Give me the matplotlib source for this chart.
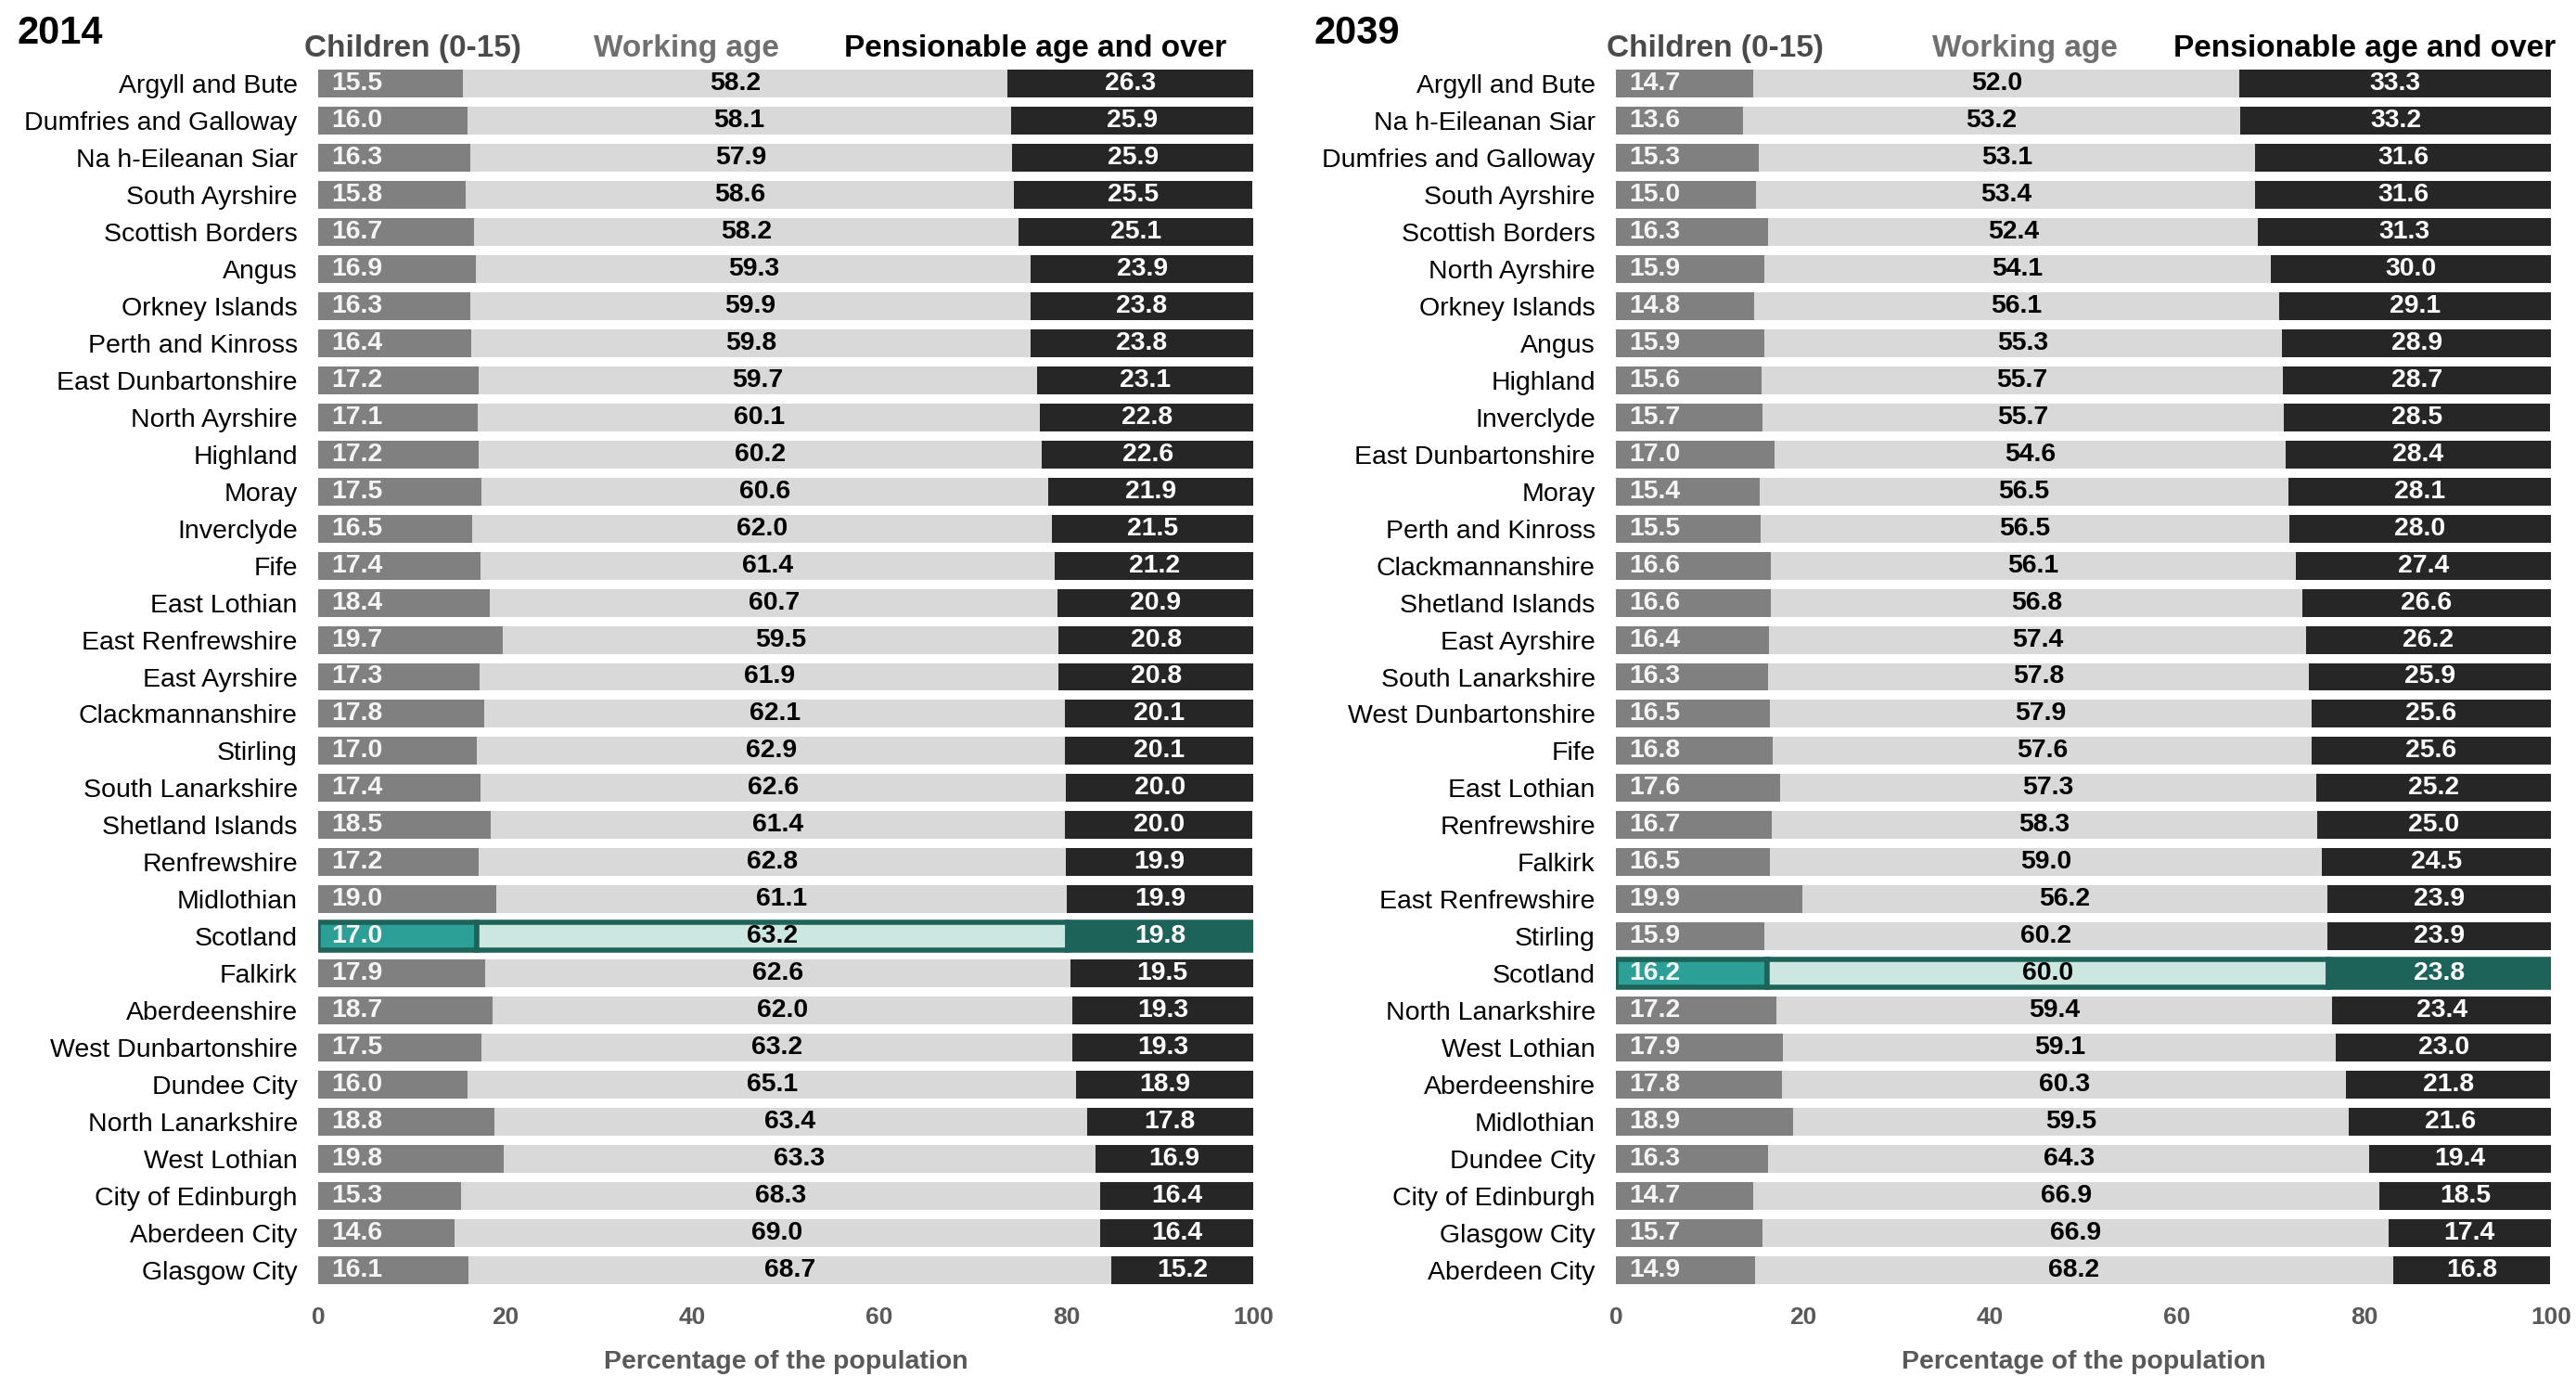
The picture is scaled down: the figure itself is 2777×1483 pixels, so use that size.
import matplotlib.pyplot as plt
import numpy as np
from matplotlib.transforms import blended_transform_factory

plt.rcParams['font.family'] = ['Liberation Sans', 'DejaVu Sans']

# 2014 estimates, ordered by share of pensionable age
areas_2014 = ['Argyll and Bute', 'Dumfries and Galloway', 'Na h-Eileanan Siar',
              'South Ayrshire', 'Scottish Borders', 'Angus', 'Orkney Islands',
              'Perth and Kinross', 'East Dunbartonshire', 'North Ayrshire',
              'Highland', 'Moray', 'Inverclyde', 'Fife', 'East Lothian',
              'East Renfrewshire', 'East Ayrshire', 'Clackmannanshire', 'Stirling',
              'South Lanarkshire', 'Shetland Islands', 'Renfrewshire', 'Midlothian',
              'Scotland', 'Falkirk', 'Aberdeenshire', 'West Dunbartonshire',
              'Dundee City', 'North Lanarkshire', 'West Lothian', 'City of Edinburgh',
              'Aberdeen City', 'Glasgow City']
children_2014 = [15.5, 16.0, 16.3, 15.8, 16.7, 16.9, 16.3, 16.4, 17.2, 17.1, 17.2,
                 17.5, 16.5, 17.4, 18.4, 19.7, 17.3, 17.8, 17.0, 17.4, 18.5, 17.2,
                 19.0, 17.0, 17.9, 18.7, 17.5, 16.0, 18.8, 19.8, 15.3, 14.6, 16.1]
working_2014 = [58.2, 58.1, 57.9, 58.6, 58.2, 59.3, 59.9, 59.8, 59.7, 60.1, 60.2,
                60.6, 62.0, 61.4, 60.7, 59.5, 61.9, 62.1, 62.9, 62.6, 61.4, 62.8,
                61.1, 63.2, 62.6, 62.0, 63.2, 65.1, 63.4, 63.3, 68.3, 69.0, 68.7]
pension_2014 = [26.3, 25.9, 25.9, 25.5, 25.1, 23.9, 23.8, 23.8, 23.1, 22.8, 22.6,
                21.9, 21.5, 21.2, 20.9, 20.8, 20.8, 20.1, 20.1, 20.0, 20.0, 19.9,
                19.9, 19.8, 19.5, 19.3, 19.3, 18.9, 17.8, 16.9, 16.4, 16.4, 15.2]

# 2039 projections
areas_2039 = ['Argyll and Bute', 'Na h-Eileanan Siar', 'Dumfries and Galloway',
              'South Ayrshire', 'Scottish Borders', 'North Ayrshire', 'Orkney Islands',
              'Angus', 'Highland', 'Inverclyde', 'East Dunbartonshire', 'Moray',
              'Perth and Kinross', 'Clackmannanshire', 'Shetland Islands',
              'East Ayrshire', 'South Lanarkshire', 'West Dunbartonshire', 'Fife',
              'East Lothian', 'Renfrewshire', 'Falkirk', 'East Renfrewshire',
              'Stirling', 'Scotland', 'North Lanarkshire', 'West Lothian',
              'Aberdeenshire', 'Midlothian', 'Dundee City', 'City of Edinburgh',
              'Glasgow City', 'Aberdeen City']
children_2039 = [14.7, 13.6, 15.3, 15.0, 16.3, 15.9, 14.8, 15.9, 15.6, 15.7, 17.0,
                 15.4, 15.5, 16.6, 16.6, 16.4, 16.3, 16.5, 16.8, 17.6, 16.7, 16.5,
                 19.9, 15.9, 16.2, 17.2, 17.9, 17.8, 18.9, 16.3, 14.7, 15.7, 14.9]
working_2039 = [52.0, 53.2, 53.1, 53.4, 52.4, 54.1, 56.1, 55.3, 55.7, 55.7, 54.6,
                56.5, 56.5, 56.1, 56.8, 57.4, 57.8, 57.9, 57.6, 57.3, 58.3, 59.0,
                56.2, 60.2, 60.0, 59.4, 59.1, 60.3, 59.5, 64.3, 66.9, 66.9, 68.2]
pension_2039 = [33.3, 33.2, 31.6, 31.6, 31.3, 30.0, 29.1, 28.9, 28.7, 28.5, 28.4,
                28.1, 28.0, 27.4, 26.6, 26.2, 25.9, 25.6, 25.6, 25.2, 25.0, 24.5,
                23.9, 23.9, 23.8, 23.4, 23.0, 21.8, 21.6, 19.4, 18.5, 17.4, 16.8]

groups = ['Children (0-15)', 'Working age', 'Pensionable age and over']
xticks = [0, 20, 40, 60, 80, 100]

W, H = 2777, 1483
fig = plt.figure(figsize=(W / 100, H / 100), dpi=100)

plain = ['#808080', '#d9d9d9', '#262626']
highlight = ['#2ca096', '#cce6e2', '#1e6359']
text_cols = ['#f5f5f5', 'black', 'white']
head_cols = ['#4a4a4a', '#707070', 'black']
axis_grey = '#595959'


def panel(left_px, title, areas, child, work, pens, head_x):
    ax = fig.add_axes([left_px / W, 1 - 1389 / H, 1008 / W, 1319 / H])
    n = len(areas)
    y = np.arange(n)
    child = np.array(child)
    work = np.array(work)
    pens = np.array(pens)
    starts = [np.zeros(n), child, child + work]
    for k, vals in enumerate([child, work, pens]):
        for i in range(n):
            if areas[i] == 'Scotland':
                ax.barh(y[i], vals[i], left=starts[k][i], height=0.75,
                        color=highlight[k], edgecolor='#1e6359', linewidth=4,
                        zorder=3)
            else:
                ax.barh(y[i], vals[i], left=starts[k][i], height=0.75,
                        color=plain[k], linewidth=0, zorder=2)
    for i in range(n):
        ax.text(1.4, y[i], f'{child[i]:.1f}', ha='left', va='center',
                color=text_cols[0], fontsize=20.4, fontweight='bold', zorder=4)
        ax.text(child[i] + work[i] / 2, y[i], f'{work[i]:.1f}', ha='center',
                va='center', color=text_cols[1], fontsize=20.4,
                fontweight='bold', zorder=4)
        ax.text(child[i] + work[i] + pens[i] / 2, y[i], f'{pens[i]:.1f}',
                ha='center', va='center', color=text_cols[2], fontsize=20.4,
                fontweight='bold', zorder=4)

    ax.set_xlim(0, 100)
    ax.set_ylim(n - 0.5, -0.5)
    ax.set_yticks(y)
    ax.set_yticklabels(areas, fontsize=20.5)
    ax.set_xticks(xticks)
    ax.set_xticklabels([str(t) for t in xticks], fontsize=19,
                       fontweight='bold', color=axis_grey)
    ax.tick_params(axis='y', length=0, pad=16)
    ax.tick_params(axis='x', length=0, pad=14)
    ax.set_xlabel('Percentage of the population', fontsize=20.5,
                  fontweight='bold', color=axis_grey, labelpad=16)
    for s in ax.spines.values():
        s.set_visible(False)

    tr = blended_transform_factory(ax.transData, fig.transFigure)
    for g, hx, hc in zip(groups, head_x, head_cols):
        ax.text(hx, 1 - 53 / H, g, transform=tr, ha='center', va='center',
                fontsize=24, fontweight='bold', color=hc)
    fig.text((left_px - 325) / W, 1 - 36 / H, title, ha='left', va='center',
             fontsize=30, fontweight='bold')


panel(343, '2014', areas_2014, children_2014, working_2014, pension_2014,
      [10.1, 39.4, 76.7])
panel(1742, '2039', areas_2039, children_2039, working_2039, pension_2039,
      [10.6, 43.7, 80.1])

fig.savefig('out.png', dpi=100, facecolor='white')
